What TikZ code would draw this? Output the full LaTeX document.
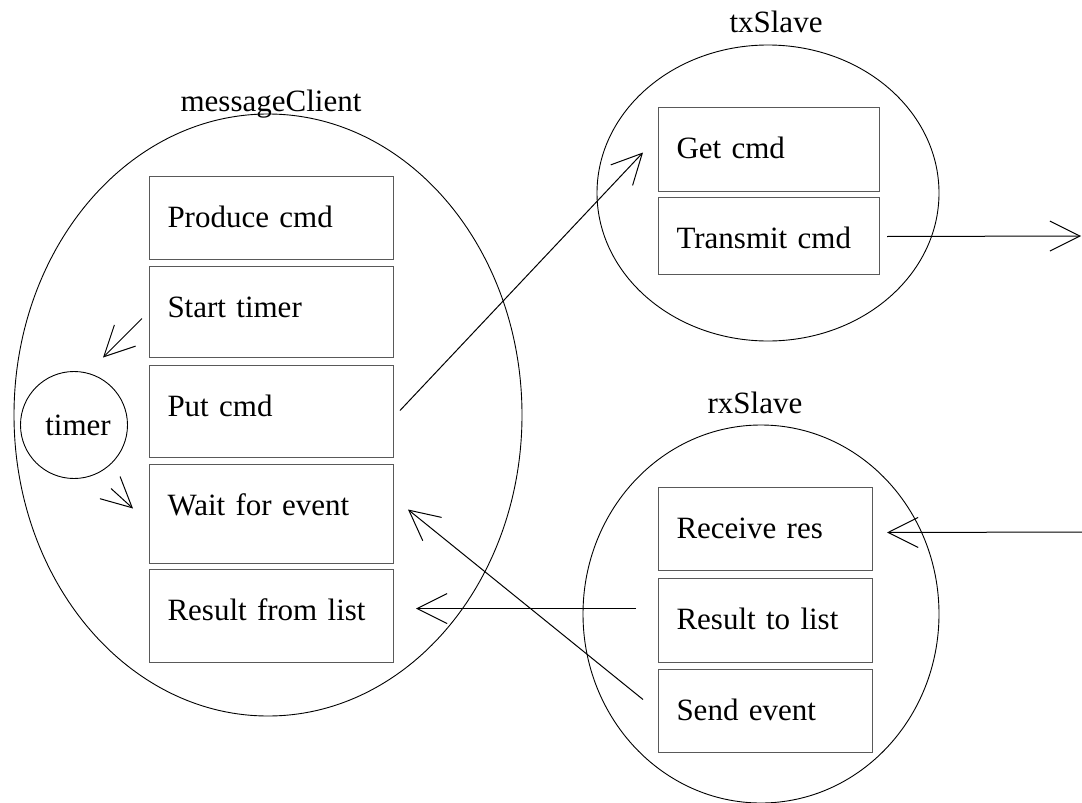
\documentclass[tikz,border=0pt]{standalone}
\usepackage{fontspec}
\setmainfont{Liberation Serif}
\usetikzlibrary{arrows.meta,shapes.geometric}
\begin{document}
\begin{tikzpicture}[x=1pt,y=-1pt,
  every node/.style={font=\fontsize{31}{37}\selectfont},
  proc/.style 2 args={draw=black!65, line width=1pt, anchor=north west,
    inner xsep=18pt, inner ysep=0pt, text width=#1, align=left,
    text height=51pt, text depth=#2},
  task/.style={draw=black, line width=0.9pt, ellipse, inner sep=0pt},
  tasklabel/.style={anchor=base, inner sep=0pt},
  arr/.style={-{Straight Barb[length=30pt,width=30pt]}, line width=1pt}]
\useasboundingbox (0,0) rectangle (1082,803);

% processes
\node[task, minimum width=508pt, minimum height=602pt] (mc) at (268,415) {};
\node[task, minimum width=342pt, minimum height=296pt] (tx) at (768,193) {};
\node[task, minimum width=356pt, minimum height=378pt] (rx) at (761,614) {};
\node[tasklabel] (mclabel) at (271,111) {messageClient};
\node[tasklabel] (txlabel) at (776,32) {txSlave};
\node[tasklabel] (rxlabel) at (755,413) {rxSlave};

% timer (its text sits a little right of the centre)
\node[draw=black, line width=0.9pt, circle, minimum size=107pt, inner sep=0pt] (timer) at (74,425) {\hspace{8pt}timer};

% messageClient steps
\node[proc={208pt}{32pt}] (produce)  at (149,176) {Produce cmd};
\node[proc={208pt}{40pt}] (start)    at (149,266) {Start timer};
\node[proc={208pt}{41pt}] (put)      at (149,365) {Put cmd};
\node[proc={208pt}{48pt}] (wait)     at (149,464) {Wait for event};
\node[proc={208pt}{42pt}] (fromlist) at (149,569) {Result from list};

% txSlave steps
\node[proc={185pt}{33pt}] (getcmd)   at (658,107) {Get cmd};
\node[proc={185pt}{26pt}] (transmit) at (658,197) {Transmit cmd};

% rxSlave steps
\node[proc={178pt}{32pt}] (receive)  at (658,487) {Receive res};
\node[proc={178pt}{33pt}] (tolist)   at (658,578) {Result to list};
\node[proc={178pt}{32pt}] (send)     at (658,669) {Send event};

% outside world
\coordinate (txout) at (1081,236);
\coordinate (rxin) at (1082,532);

% connectors
\draw[arr] ([shift={(-7,6.5)}]start.west) -- ([shift={(-46,45.5)}]start.west);
\draw[arr] ([shift={(-38,-25.5)}]wait.west) -- ([shift={(-16,-5.5)}]wait.west);
\draw[arr] ([shift={(6,-1)}]put.east) -- ([shift={(-15,3)}]getcmd.west);
\draw[arr] ([shift={(-15,-11.5)}]send.west) -- ([shift={(14,-4.5)}]wait.east);
\draw[arr] ([shift={(-22,-12)}]tolist.west) -- ([shift={(22,-7.5)}]fromlist.east);
\draw[arr] ([shift={(7,0.5)}]transmit.east) -- (txout);
\draw[arr] (rxin) -- ([shift={(14,3.5)}]receive.east);
\end{tikzpicture}
\end{document}
